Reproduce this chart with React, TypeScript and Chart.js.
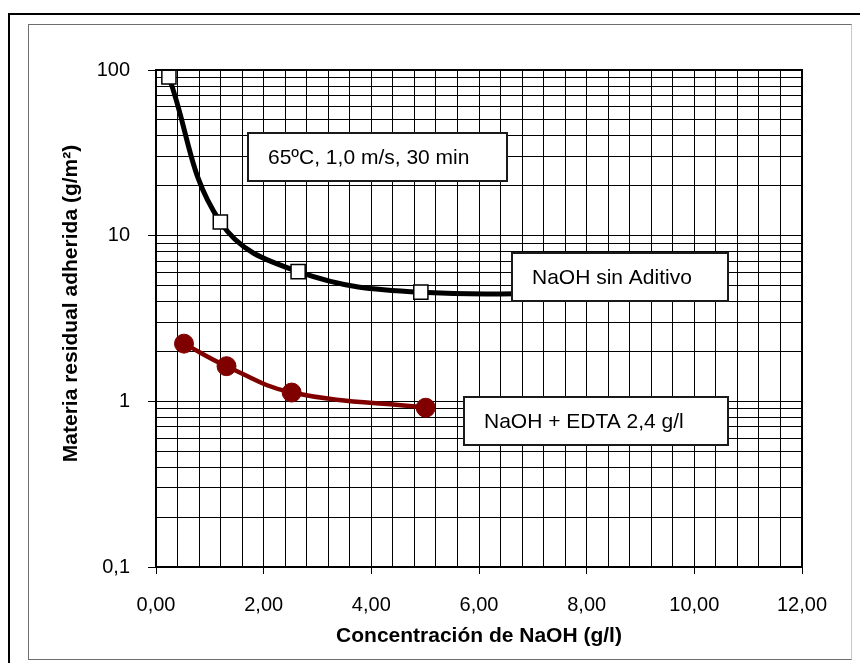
import React, { useEffect, useRef } from "react";
import { Chart, registerables } from "chart.js";

Chart.register(...registerables);

// ---------- data ----------
const SERIES_A_NAME = "NaOH sin Aditivo";
const SERIES_A_X = [0.24, 1.195, 2.64, 4.92, 9.0];
const SERIES_A_Y = [90.7, 12.1, 6.07, 4.56, 4.7];

const SERIES_B_NAME = "NaOH + EDTA 2,4 g/l";
const SERIES_B_X = [0.52, 1.31, 2.52, 5.01];
const SERIES_B_Y = [2.23, 1.63, 1.13, 0.915];

const X_MIN = 0;
const X_MAX = 12;
const X_MAJOR_STEP = 2;
const X_MINOR_STEP = 0.4;

const Y_MIN = 0.1;
const Y_MAX = 100;
const Y_DECADES = [0.1, 1, 10, 100];
const Y_LABELS = ["0,1", "1", "10", "100"];
const Y_MULTIPLIERS = [1, 2, 3, 4, 5, 6, 7, 8, 9];

const X_TITLE = "Concentración de NaOH (g/l)";
const Y_TITLE = "Materia residual adherida (g/m²)";
const NOTE_TEXT = "65ºC, 1,0 m/s, 30 min";

// annotation boxes anchored in data coordinates
const NOTES = [
  { text: NOTE_TEXT, x0: 1.71, x1: 6.52, yTop: 41.7, yBottom: 21.4 },
  { text: SERIES_A_NAME, x0: 6.613, x1: 10.625, yTop: 7.9, yBottom: 4.06 },
  { text: SERIES_B_NAME, x0: 5.72, x1: 10.625, yTop: 1.057, yBottom: 0.543 },
];

const FONT = '"Liberation Sans", Arial, Helvetica, sans-serif';

// ---------- tick helpers ----------
const X_TICKS: number[] = [];
for (let i = 0; i <= Math.round((X_MAX - X_MIN) / X_MINOR_STEP); i++) {
  X_TICKS.push(+(X_MIN + i * X_MINOR_STEP).toFixed(4));
}
const Y_TICKS: number[] = [];
Y_DECADES.forEach((d, i) => {
  if (i === Y_DECADES.length - 1) {
    Y_TICKS.push(d);
  } else {
    Y_MULTIPLIERS.forEach((m) => Y_TICKS.push(+(d * m).toPrecision(6)));
  }
});

const isMajorX = (v: number) =>
  Math.abs(v / X_MAJOR_STEP - Math.round(v / X_MAJOR_STEP)) < 1e-6;
const decadeIndex = (v: number) =>
  Y_DECADES.findIndex((d) => Math.abs(d - v) / d < 1e-6);
const xLabel = (v: number) => (isMajorX(v) ? v.toFixed(2).replace(".", ",") : "");
const yLabel = (v: number) => {
  const i = decadeIndex(v);
  return i >= 0 ? Y_LABELS[i] : "";
};

const overlayPlugin = {
  id: "overlay",
  afterDraw(chart: any) {
    const { ctx, chartArea: a, scales } = chart;
    const xs = scales.x;
    const ys = scales.y;
    ctx.save();
    // plot frame
    ctx.strokeStyle = "#000";
    ctx.lineWidth = 2;
    ctx.strokeRect(a.left, a.top, a.right - a.left, a.bottom - a.top);

    // annotation boxes
    for (const n of NOTES) {
      const l = Math.round(xs.getPixelForValue(n.x0));
      const r = Math.round(xs.getPixelForValue(n.x1));
      const t = Math.round(ys.getPixelForValue(n.yTop));
      const b = Math.round(ys.getPixelForValue(n.yBottom));
      ctx.fillStyle = "#fff";
      ctx.fillRect(l, t, r - l, b - t);
      ctx.strokeStyle = "#1a1a1a";
      ctx.lineWidth = 2;
      ctx.strokeRect(l, t, r - l, b - t);
      ctx.fillStyle = "#000";
      ctx.font = `21px ${FONT}`;
      ctx.textBaseline = "middle";
      ctx.textAlign = "left";
      ctx.fillText(n.text, l + 20, (t + b) / 2 + 1);
    }

    // y axis title
    ctx.translate(a.left - 85, (a.top + a.bottom) / 2 - 15);
    ctx.rotate(-Math.PI / 2);
    ctx.fillStyle = "#000";
    ctx.font = `bold 21px ${FONT}`;
    ctx.textAlign = "center";
    ctx.textBaseline = "middle";
    ctx.fillText(Y_TITLE, 0, 0);
    ctx.restore();
  },
};

export default function App() {
  const ref = useRef<HTMLCanvasElement>(null);

  useEffect(() => {
    if (!ref.current) return;
    const chart = new Chart(ref.current, {
      type: "line",
      data: {
        datasets: [
          {
            label: SERIES_B_NAME,
            data: SERIES_B_X.map((x, i) => ({ x, y: SERIES_B_Y[i] })),
            borderColor: "#800000",
            backgroundColor: "#800000",
            borderWidth: 4.5,
            tension: 0.4,
            pointStyle: "circle",
            pointRadius: 9.5,
            pointBorderWidth: 1,
            pointBackgroundColor: "#800000",
            pointBorderColor: "#800000",
            clip: false,
          } as any,
          {
            label: SERIES_A_NAME,
            data: SERIES_A_X.map((x, i) => ({ x, y: SERIES_A_Y[i] })),
            borderColor: "#000",
            backgroundColor: "#fff",
            borderWidth: 5,
            tension: 0.4,
            pointStyle: "rect",
            pointRadius: 10,
            pointBorderWidth: 1.5,
            pointBackgroundColor: "#fff",
            pointBorderColor: "#000",
            clip: false,
          } as any,
        ],
      },
      options: {
        animation: false,
        responsive: false,
        devicePixelRatio: 1,
        layout: { padding: { left: 59, top: 70, right: 58, bottom: 10 } },
        plugins: {
          legend: { display: false },
          tooltip: { enabled: false },
        },
        scales: {
          x: {
            type: "linear",
            min: X_MIN,
            max: X_MAX,
            afterBuildTicks: (s: any) => {
              s.ticks = X_TICKS.map((v) => ({ value: v }));
            },
            afterFit: (s: any) => {
              s.height = 86;
            },
            ticks: {
              autoSkip: false,
              maxRotation: 0,
              padding: 19,
              color: "#000",
              font: { family: FONT, size: 20 },
              callback: (v: any) => xLabel(Number(v)),
            },
            grid: {
              color: "#000",
              lineWidth: 1,
              tickLength: 7,
              tickColor: (c: any) =>
                c.tick && isMajorX(c.tick.value) ? "#000" : "rgba(0,0,0,0)",
            },
            border: { color: "#000", width: 2 },
            title: {
              display: true,
              text: X_TITLE,
              color: "#000",
              font: { family: FONT, size: 21, weight: "bold" },
              padding: { top: 0, bottom: 4 },
            },
          },
          y: {
            type: "logarithmic",
            min: Y_MIN,
            max: Y_MAX,
            afterBuildTicks: (s: any) => {
              s.ticks = Y_TICKS.map((v) => ({ value: v }));
            },
            afterFit: (s: any) => {
              s.width = 97;
            },
            ticks: {
              autoSkip: false,
              padding: 18,
              color: "#000",
              font: { family: FONT, size: 20 },
              callback: (v: any) => yLabel(Number(v)),
            },
            grid: {
              color: "#000",
              lineWidth: 1,
              tickLength: 8,
              tickColor: (c: any) =>
                c.tick && decadeIndex(c.tick.value) >= 0 ? "#000" : "rgba(0,0,0,0)",
            },
            border: { color: "#000", width: 2 },
          },
        },
      } as any,
      plugins: [overlayPlugin],
    });
    return () => chart.destroy();
  }, []);

  return (
    <div
      style={{
        position: "fixed",
        left: 0,
        top: 0,
        width: 860,
        height: 663,
        overflow: "hidden",
        background: "#fff",
      }}
    >
      <div
        style={{
          position: "absolute",
          left: 8,
          top: 13,
          width: 900,
          height: 700,
          borderLeft: "2px solid #000",
          borderTop: "2px solid #000",
        }}
      />
      <div
        style={{
          position: "absolute",
          left: 28,
          top: 24,
          width: 822,
          height: 634,
          borderStyle: "solid",
          borderWidth: 1,
          borderColor: "#6e6e6e #c8c8c8 #6e6e6e #6e6e6e",
        }}
      />
      <canvas
        ref={ref}
        width={860}
        height={663}
        style={{ position: "absolute", left: 0, top: 0, width: 860, height: 663 }}
      />
    </div>
  );
}
